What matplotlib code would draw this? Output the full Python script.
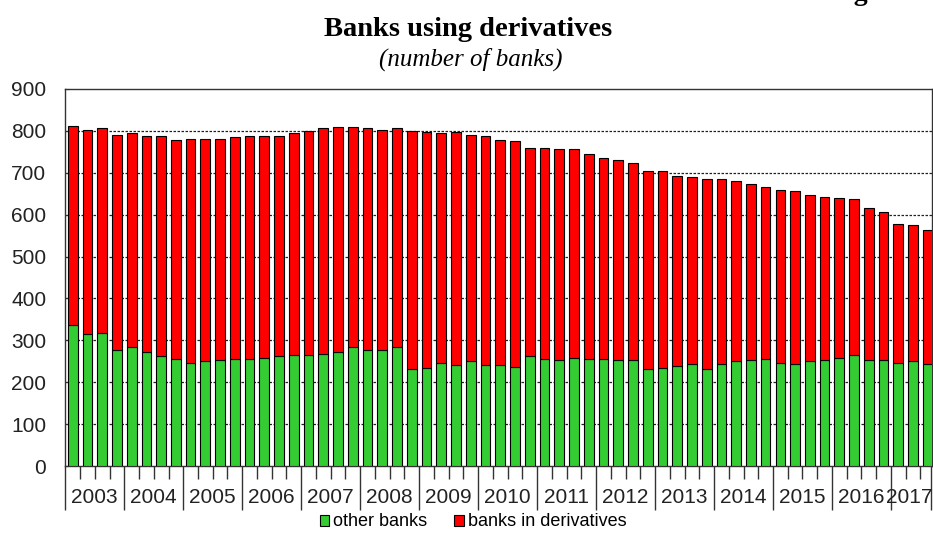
import matplotlib
matplotlib.use('Agg')
from matplotlib import pyplot as plt
import numpy as np

# quarterly data, 2003Q1 - 2017Q3
years = ['2003', '2004', '2005', '2006', '2007', '2008', '2009', '2010',
         '2011', '2012', '2013', '2014', '2015', '2016', '2017']

other_banks = [336, 314, 318, 278, 284, 271, 263, 256, 247, 250,
               253, 256, 256, 259, 263, 266, 266, 268, 271, 283,
               278, 278, 283, 232, 235, 247, 240, 250, 240, 240,
               237, 262, 256, 253, 259, 256, 256, 253, 253, 232,
               235, 238, 244, 232, 244, 250, 253, 256, 247, 244,
               250, 253, 259, 265, 253, 253, 247, 250, 244]

deriv_banks = [475, 489, 490, 512, 510, 517, 525, 522, 534, 531,
               528, 529, 532, 529, 525, 528, 534, 538, 538, 526,
               528, 525, 523, 568, 563, 547, 557, 541, 548, 538,
               539, 498, 504, 504, 498, 489, 479, 477, 470, 473,
               470, 454, 445, 452, 440, 430, 421, 409, 412, 412,
               396, 390, 381, 372, 363, 353, 331, 325, 319]

W, H = 933, 535
fig = plt.figure(figsize=(W / 100, H / 100), dpi=100)
ax = fig.add_axes([65 / W, (H - 466) / H, (931.5 - 65) / W, (466 - 89) / H])

x = np.arange(len(other_banks))
ax.bar(x, other_banks, width=0.66, color='#33cc33', edgecolor='black', linewidth=0.8,
       label='other banks', zorder=3)
ax.bar(x, deriv_banks, width=0.66, bottom=other_banks, color='#ff0000', edgecolor='black',
       linewidth=0.8, label='banks in derivatives', zorder=3)

ax.set_ylim(0, 900)
ax.set_xlim(-0.52, len(x) - 0.75)
ax.set_yticks(range(0, 901, 100))
for v in range(100, 900, 100):
    ax.axhline(v, color='#222222', lw=0.9, ls=(0, (2, 1.2)), zorder=1)

for s in ax.spines.values():
    s.set_color('#333333')
    s.set_linewidth(1)

ax.tick_params(axis='y', labelsize=15, direction='in', length=3, pad=13.5,
               colors='#333333', labelcolor='#222222')
for lbl in ax.get_yticklabels():
    lbl.set_family('Liberation Sans')

# year separators (long ticks) and quarter ticks (short)
x_end = ax.get_xlim()[1]
bounds = [i * 4 - 0.5 for i in range(len(years))]
ax.set_xticks(bounds + [x_end - 1e-6])
ax.set_xticklabels([])
ax.tick_params(axis='x', which='major', length=32, width=1, color='#333333')
quarter = [i + 0.5 for i in range(len(x) - 1) if (i + 1) % 4 != 0]
ax.set_xticks(quarter, minor=True)
ax.tick_params(axis='x', which='minor', direction='out', length=9.5, width=1,
               color='#333333')

for i, yr in enumerate(years):
    left = bounds[i]
    right = bounds[i + 1] if i + 1 < len(bounds) else x_end - 0.25
    ax.text((left + right) / 2, -0.083, yr, transform=ax.get_xaxis_transform(),
            ha='center', va='center', fontsize=15, family='Liberation Sans',
            color='#222222')

fig.text(0.502, 1 - 30 / H, 'Banks using derivatives', ha='center', va='center',
         fontsize=20.5, fontweight='bold', family='Liberation Serif')
fig.text(0.505, 1 - 59 / H, '(number of banks)', ha='center', va='center',
         fontsize=18, style='italic', family='Liberation Serif')
fig.text(830 / W, 1.0, 'Figure', ha='left', va='baseline', fontsize=20,
         fontweight='bold', family='Liberation Serif')

leg = fig.legend(loc='center', bbox_to_anchor=(473 / W, 1 - 522 / H), ncol=2, frameon=False,
                 prop={'family': 'Liberation Sans', 'size': 13}, handlelength=0.55,
                 handleheight=0.55, handletextpad=0.2, columnspacing=1.5)

fig.savefig('out.png', dpi=100)
